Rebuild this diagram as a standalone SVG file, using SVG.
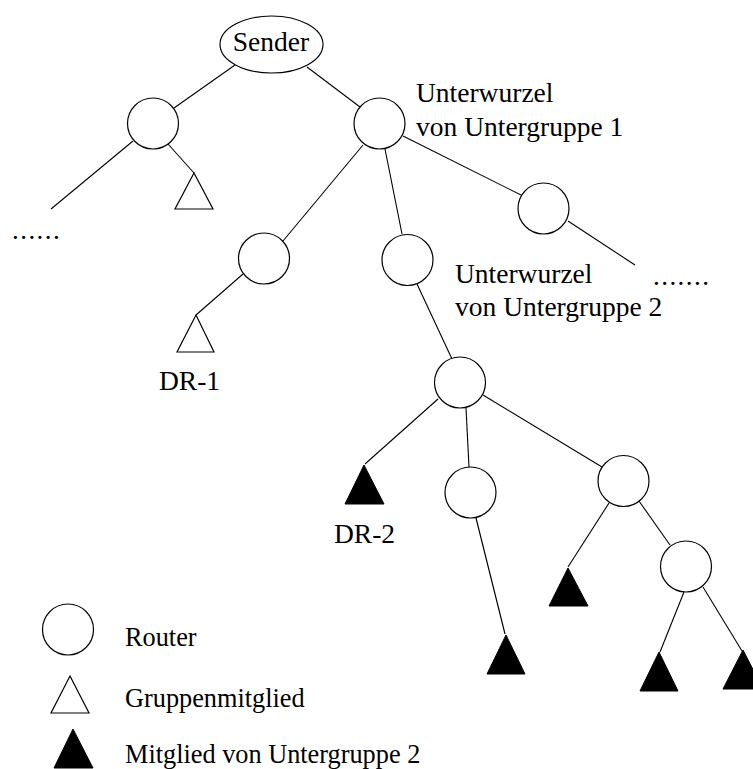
<svg xmlns="http://www.w3.org/2000/svg" width="753" height="769" viewBox="0 0 753 769">
  <style>
    .router { fill: #ffffff; stroke: #000000; stroke-width: 1.2; }
    .member { fill: #ffffff; stroke: #000000; stroke-width: 1.2; }
    .sub { fill: #000000; stroke: #000000; stroke-width: 1; }
    .link { stroke: #000000; stroke-width: 1.1; fill: none; }
    .label { font-family: "Liberation Serif", "Times New Roman", serif; font-size: 27.5px; fill: #000000; }
    .legend { font-family: "Liberation Serif", "Times New Roman", serif; font-size: 26.3px; fill: #000000; }
    .dots { font-family: "Liberation Serif", "Times New Roman", serif; font-size: 27px; letter-spacing: 1.45px; fill: #000000; }
  </style>
  <rect width="753" height="769" fill="#ffffff"/>

  <!-- connectors -->
  <g id="connectors">
    <line class="link" x1="235" y1="65" x2="174" y2="108"/>
    <line class="link" x1="307" y1="67" x2="360" y2="107"/>
    <line class="link" x1="133" y1="141" x2="51" y2="209"/>
    <line class="link" x1="168" y1="144" x2="194" y2="173"/>
    <line class="link" x1="363" y1="145" x2="283" y2="241"/>
    <line class="link" x1="385" y1="149" x2="402" y2="234"/>
    <line class="link" x1="403" y1="136" x2="521" y2="195"/>
    <line class="link" x1="568" y1="221" x2="635" y2="265"/>
    <line class="link" x1="243" y1="274" x2="196" y2="315"/>
    <line class="link" x1="417" y1="284" x2="452" y2="359"/>
    <line class="link" x1="438" y1="399" x2="365" y2="464"/>
    <line class="link" x1="466" y1="408" x2="469" y2="467"/>
    <line class="link" x1="483" y1="395" x2="602" y2="467"/>
    <line class="link" x1="476" y1="518" x2="505" y2="634"/>
    <line class="link" x1="609" y1="503" x2="568" y2="567"/>
    <line class="link" x1="639" y1="501" x2="670" y2="545"/>
    <line class="link" x1="684" y1="592" x2="660" y2="652"/>
    <line class="link" x1="703" y1="587" x2="742" y2="651"/>
  </g>

  <!-- sender -->
  <g id="sender">
    <ellipse cx="271.5" cy="44.5" rx="51.5" ry="28.5" class="router"/>
    <text x="271" y="51" class="label" text-anchor="middle">Sender</text>
  </g>

  <!-- routers -->
  <g id="router-a"><circle cx="153" cy="123.5" r="25.5" class="router"/></g>
  <g id="router-b">
    <circle cx="379.5" cy="123.5" r="25.5" class="router"/>
    <text x="416" y="102" class="label">Unterwurzel</text>
    <text x="416" y="136" class="label">von Untergruppe 1</text>
  </g>
  <g id="router-c"><circle cx="264" cy="258.5" r="25.5" class="router"/></g>
  <g id="router-d">
    <circle cx="407.5" cy="260" r="25.5" class="router"/>
    <text x="455" y="283" class="label">Unterwurzel</text>
    <text x="455" y="316" class="label">von Untergruppe 2</text>
  </g>
  <g id="router-e"><circle cx="543.5" cy="208.5" r="25.5" class="router"/></g>
  <g id="router-f"><circle cx="460" cy="382.5" r="25.5" class="router"/></g>
  <g id="router-g"><circle cx="470.5" cy="492.5" r="25.5" class="router"/></g>
  <g id="router-h"><circle cx="623.5" cy="481" r="25.5" class="router"/></g>
  <g id="router-i"><circle cx="686" cy="566.5" r="25.5" class="router"/></g>

  <!-- continuation marks -->
  <g id="more-left"><text x="12" y="239" class="dots">......</text></g>
  <g id="more-right"><text x="653" y="285" class="dots">.......</text></g>

  <!-- group members -->
  <g id="member-a"><polygon points="194,173 213,209 175,209" class="member"/></g>
  <g id="member-dr1">
    <polygon points="196,315 214,352 177,352" class="member"/>
    <text x="159" y="390" class="label">DR-1</text>
  </g>

  <!-- subgroup-2 members -->
  <g id="member-dr2">
    <polygon points="364,465 384,504 345,504" class="sub"/>
    <text x="334" y="543" class="label">DR-2</text>
  </g>
  <g id="member-g"><polygon points="506,635 525,674 487,674" class="sub"/></g>
  <g id="member-h"><polygon points="568,568 588,606 549,606" class="sub"/></g>
  <g id="member-i1"><polygon points="659,652 678,691 640,691" class="sub"/></g>
  <g id="member-i2"><polygon points="743,650 763,689 723,689" class="sub"/></g>

  <!-- legend -->
  <g id="legend-router">
    <circle cx="68" cy="629.5" r="25.5" class="router"/>
    <text x="125" y="646" class="legend">Router</text>
  </g>
  <g id="legend-member">
    <polygon points="70,676 89,713 51,713" class="member"/>
    <text x="125" y="707" class="legend">Gruppenmitglied</text>
  </g>
  <g id="legend-sub">
    <polygon points="73,729 93,768 54,768" class="sub"/>
    <text x="125" y="763" class="legend">Mitglied von Untergruppe 2</text>
  </g>
</svg>
